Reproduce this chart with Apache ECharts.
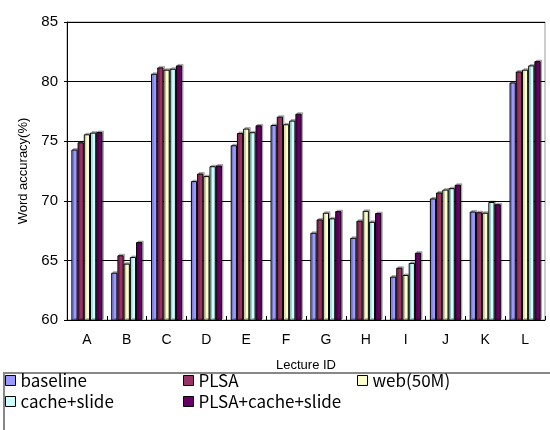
<!DOCTYPE html>
<html>
<head>
<meta charset="utf-8">
<script src="https://cdn.jsdelivr.net/npm/echarts@6/dist/echarts.min.js"></script>
<style>html,body{margin:0;padding:0;background:#fff}#c{width:550px;height:430px}</style>
</head>
<body>
<div id="c"></div>
<script>
var categories = ['A','B','C','D','E','F','G','H','I','J','K','L'];
var seriesNames = ['baseline','PLSA','web(50M)','cache+slide','PLSA+cache+slide'];
var baseline = [74.3, 63.97, 80.66, 71.65, 74.66, 76.36, 67.32, 66.9, 63.64, 70.2, 69.1, 79.93];
var plsa = [74.91, 65.43, 81.19, 72.29, 75.69, 77.06, 68.44, 68.33, 64.39, 70.7, 69.04, 80.85];
var web50m = [75.58, 64.73, 81.0, 72.07, 76.06, 76.42, 69.0, 69.16, 63.78, 70.94, 69.0, 81.0];
var cacheSlide = [75.72, 65.29, 81.08, 72.9, 75.75, 76.73, 68.53, 68.24, 64.79, 71.06, 69.9, 81.36];
var plsaCacheSlide = [75.77, 66.54, 81.36, 72.96, 76.33, 77.31, 69.14, 68.97, 65.65, 71.35, 69.71, 81.72];
var yTicks = [60, 65, 70, 75, 80, 85];

var colors = ['#9999FF','#993366','#FFFFCC','#CCFFFF','#660066'];
var dataArr = [baseline, plsa, web50m, cacheSlide, plsaCacheSlide];

var series = seriesNames.map(function(n, i){
  return {
    name: n, type: 'bar', data: dataArr[i],
    barGap: '0%', barCategoryGap: '22%',
    itemStyle: {color: colors[i], borderColor: '#000', borderWidth: 1,
      shadowColor: 'rgba(0,0,0,0.25)', shadowOffsetX: 1.5, shadowOffsetY: -1.5, shadowBlur: 0}
  };
});

var legendText = {fontFamily: 'Noto Sans CJK JP', fontSize: 17, color: '#000'};
function mkLegend(names, left){
  return {
    data: names, orient: 'vertical', left: left, top: 372,
    itemWidth: 10, itemHeight: 10, itemGap: 4, icon: 'rect',
    textStyle: legendText, padding: 0,
    itemStyle: {borderColor:'#000', borderWidth: 1, shadowColor: 'transparent', shadowBlur:0, shadowOffsetX:0, shadowOffsetY:0}
  };
}

var chart = echarts.init(document.getElementById('c'), null, {renderer: 'canvas'});
chart.setOption({
  animation: false,
  backgroundColor: '#fff',
  color: colors,
  grid: {left: 67, right: 5, top: 22, bottom: 110, show: true, borderColor: '#999', borderWidth: 1, backgroundColor: 'transparent'},
  xAxis: {
    type: 'category', data: categories,
    name: 'Lecture ID', nameLocation: 'middle', nameGap: 39,
    nameTextStyle: {fontFamily: 'Liberation Sans', fontSize: 13, color: '#000'},
    axisLine: {lineStyle: {color: '#000', width: 1}},
    axisTick: {show: true, inside: true, length: 4, alignWithLabel: false, lineStyle: {color: '#000'}},
    axisLabel: {fontFamily: 'Liberation Sans', fontSize: 14, color: '#000', margin: 13}
  },
  yAxis: {
    type: 'value', min: yTicks[0], max: yTicks[yTicks.length-1], interval: 5,
    name: 'Word accuracy(%)', nameLocation: 'middle', nameGap: 34, nameRotate: 90,
    nameTextStyle: {fontFamily: 'Liberation Sans', fontSize: 13, color: '#000'},
    axisLine: {show: true, lineStyle: {color: '#000', width: 1}},
    axisTick: {show: true, length: 3, lineStyle: {color: '#000'}},
    axisLabel: {fontFamily: 'Liberation Sans', fontSize: 15, color: '#000', margin: 9},
    splitLine: {show: true, lineStyle: {color: '#000', width: 1}}
  },
  legend: [
    mkLegend(['baseline','cache+slide'], 5),
    mkLegend(['PLSA','PLSA+cache+slide'], 183),
    mkLegend(['web(50M)'], 357)
  ],
  graphic: [{
    type: 'rect', left: 3, top: 372, z: -1,
    shape: {width: 560, height: 80},
    style: {fill: '#fff', stroke: '#888', lineWidth: 2}
  }],
  series: series
});
</script>
</body>
</html>
